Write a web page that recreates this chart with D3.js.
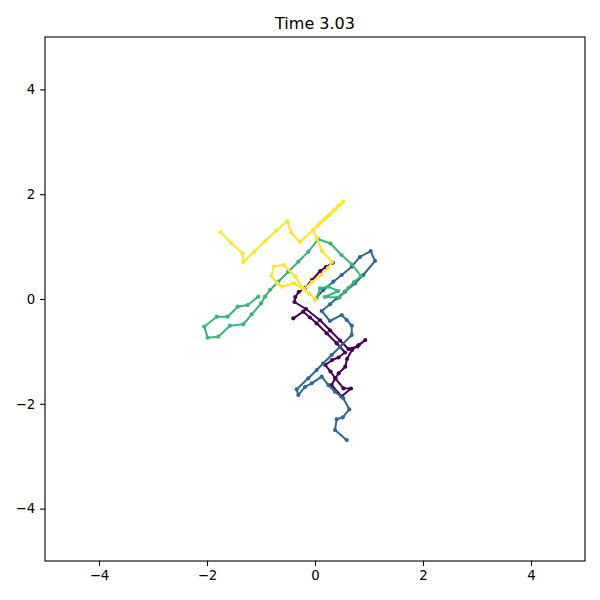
<!DOCTYPE html>
<html>
<head>
<meta charset="utf-8">
<script src="https://cdn.jsdelivr.net/npm/d3@7"></script>
<style>
  body { margin: 0; background: #fff; }
  svg text { font-family: "DejaVu Sans", sans-serif; }
</style>
</head>
<body>
<div id="chart"></div>
<script>
// walkers at t = 3.03, in data units
var purpleX = [-0.402,-0.217,-0.093,0.031,0.217,0.402,0.556,0.435,0.315,0.191,0.287,0.376,0.306,0.491,0.667,0.528,0.376,0.439,0.561,0.593,0.685,0.809,0.931,0.787,0.620,0.463,0.278,0.093,-0.167,-0.380,-0.365,-0.302,-0.191,-0.056,0.098,0.204,0.328];
var purpleY = [-0.368,-0.242,-0.353,-0.464,-0.655,-0.845,-1.021,-1.116,-1.164,-1.260,-1.384,-1.513,-1.641,-1.861,-1.708,-1.704,-1.513,-1.418,-1.292,-1.145,-0.973,-0.878,-0.782,-0.906,-0.954,-0.792,-0.597,-0.406,-0.191,-0.057,0.038,0.134,0.204,0.363,0.534,0.611,0.693];

var blueX = [0,0.154,0.339,0.494,0.680,0.833,1.031,1.111,0.894,0.741,0.556,0.402,0.278,0.124,0.278,0.494,0.587,0.680,0.680,0.463,0.309,0.154,0.031,-0.124,-0.339,-0.309,-0.185,-0.061,0.124,0.246,0.370,0.524,0.635,0.513,0.402,0.370,0.587];
var blueY = [0,0.172,0.330,0.458,0.616,0.802,0.916,0.725,0.458,0.300,0.139,0.013,-0.101,-0.229,-0.420,-0.305,-0.401,-0.506,-0.687,-0.910,-1.069,-1.227,-1.355,-1.513,-1.723,-1.832,-1.679,-1.609,-1.483,-1.641,-1.769,-1.895,-2.105,-2.258,-2.296,-2.500,-2.691];

var greenX = [0.031,0.093,0.246,0.431,0.185,0.454,0.617,0.722,0.852,0.685,0.491,0.287,0.061,-0.124,-0.309,-0.494,-0.680,-0.833,-0.926,-1.0,-1.172,-1.328,-1.574,-1.791,-1.987,-2.050,-1.820,-1.617,-1.431,-1.246,-1.050];
var greenY = [0.013,0.204,0.235,0.153,0.038,0.029,0.210,0.324,0.439,0.658,0.840,1.059,1.139,0.903,0.712,0.521,0.330,0.172,0.044,-0.082,-0.292,-0.483,-0.510,-0.719,-0.739,-0.529,-0.338,-0.338,-0.147,-0.115,0.044];

var yellowX = [0.006,-0.102,-0.209,-0.365,-0.580,-0.765,-0.809,-0.704,-0.611,-0.394,-0.209,-0.056,0.111,0.241,0.315,0.130,0.031,-0.037,0.056,0.154,0.241,0.333,0.426,0.524,0.463,0.370,0.278,0.185,0.093,-0.037,-0.278,-0.439,-0.513,-0.722,-0.920,-1.130,-1.328,-1.339,-1.550,-1.746];
var yellowY = [-0.006,0.095,0.185,0.426,0.649,0.616,0.439,0.305,0.235,0.300,0.185,0.324,0.458,0.592,0.706,0.916,1.158,1.317,1.403,1.498,1.584,1.679,1.775,1.857,1.794,1.708,1.622,1.536,1.450,1.317,1.088,1.265,1.489,1.303,1.107,0.903,0.700,0.872,1.063,1.273];

var seriesColors = ["#440154", "#31688e", "#35b779", "#fde725"];
var ticks = [-4, -2, 0, 2, 4];
var title = "Time 3.03";

var series = [
  [purpleX, purpleY],
  [blueX, blueY],
  [greenX, greenY],
  [yellowX, yellowY]
].map(function (s, i) {
  return { color: seriesColors[i], pts: s[0].map(function (x, j) { return [x, s[1][j]]; }) };
});

var width = 600, height = 600;
var margin = { left: 45, right: 15, top: 37, bottom: 39 };

var svg = d3.select("#chart").append("svg")
  .attr("width", width)
  .attr("height", height);

var x = d3.scaleLinear().domain([-5, 5]).range([margin.left, width - margin.right]);
var y = d3.scaleLinear().domain([-5, 5]).range([height - margin.bottom, margin.top]);

var xAxis = svg.append("g")
  .attr("transform", "translate(0," + (height - margin.bottom) + ")")
  .call(d3.axisBottom(x).tickValues(ticks).tickSize(4.9).tickPadding(4.9));
var yAxis = svg.append("g")
  .attr("transform", "translate(" + margin.left + ",0)")
  .call(d3.axisLeft(y).tickValues(ticks).tickSize(4.9).tickPadding(4.9));

[xAxis, yAxis].forEach(function (g) {
  g.select(".domain").remove();
  g.selectAll("line").attr("stroke", "#000").attr("stroke-width", 1.1);
  g.selectAll("text").attr("font-size", 13.3).attr("fill", "#000")
    .style("font-family", "'DejaVu Sans', sans-serif");
});

var plot = svg.append("g");
var line = d3.line().x(function (d) { return x(d[0]); }).y(function (d) { return y(d[1]); });

series.forEach(function (s) {
  plot.append("path")
    .datum(s.pts)
    .attr("d", line)
    .attr("fill", "none")
    .attr("stroke", s.color)
    .attr("stroke-width", 2)
    .attr("stroke-linejoin", "round")
    .attr("stroke-linecap", "square");
  plot.selectAll(null)
    .data(s.pts)
    .enter().append("circle")
    .attr("cx", function (d) { return x(d[0]); })
    .attr("cy", function (d) { return y(d[1]); })
    .attr("r", 2.1)
    .attr("fill", s.color);
});

// axes frame
svg.append("rect")
  .attr("x", margin.left)
  .attr("y", margin.top)
  .attr("width", width - margin.left - margin.right)
  .attr("height", height - margin.top - margin.bottom)
  .attr("fill", "none")
  .attr("stroke", "#000")
  .attr("stroke-width", 1.1);

svg.append("text")
  .attr("x", (margin.left + width - margin.right) / 2)
  .attr("y", 29)
  .attr("text-anchor", "middle")
  .attr("font-size", 16)
  .text(title);
</script>
</body>
</html>
